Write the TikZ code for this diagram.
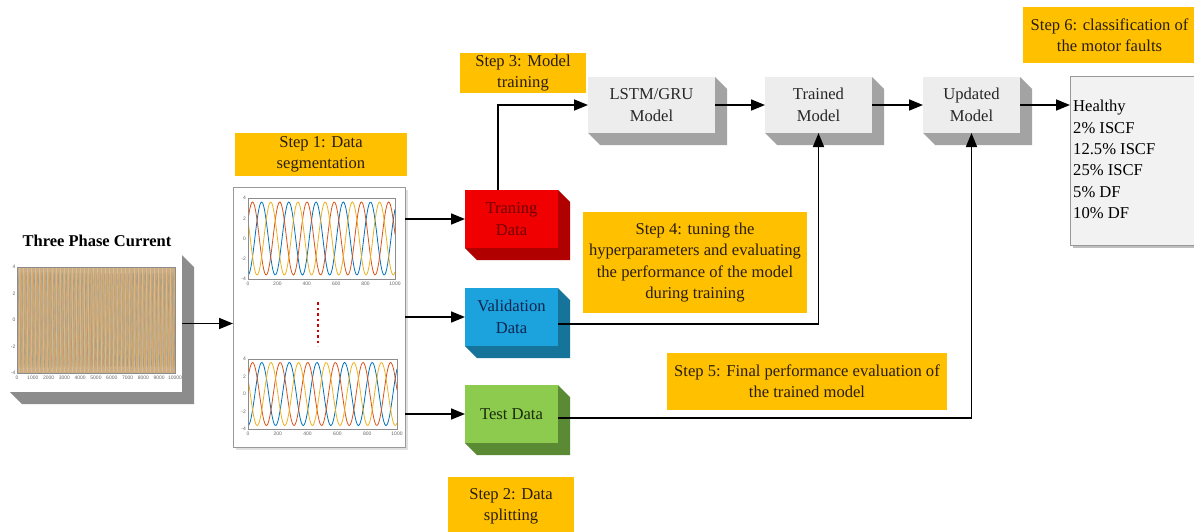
\documentclass[tikz,border=0pt]{standalone}
\usepackage{fontspec}
\setmainfont{Liberation Serif}
\newfontfamily\tickfont{Liberation Sans}
\usetikzlibrary{arrows.meta,calc}
\definecolor{stepor}{HTML}{FFC000}
\definecolor{steptext}{HTML}{2A1E10}
\definecolor{boxfront}{HTML}{EDEDED}
\definecolor{boxside}{HTML}{A3A3A3}
\definecolor{trfront}{HTML}{F00000}
\definecolor{trside}{HTML}{B00000}
\definecolor{trtext}{HTML}{700000}
\definecolor{vafront}{HTML}{1CA3DE}
\definecolor{vaside}{HTML}{16739A}
\definecolor{vatext}{HTML}{0E2550}
\definecolor{tefront}{HTML}{8CCB4E}
\definecolor{teside}{HTML}{5A8A34}
\definecolor{tetext}{HTML}{1A2A0A}
\definecolor{mblue}{HTML}{0072BD}
\definecolor{mred}{HTML}{D95319}
\definecolor{myel}{HTML}{EDB120}
\definecolor{tan}{HTML}{CDAE82}
\newcommand\extrude[3]{\fill[#2] (#1.north east) -- ++(#3,#3) -- ($(#1.south east)+(#3,#3)$) -- ($(#1.south west)+(#3,#3)$) -- (#1.south west) -- (#1.south east) -- cycle;}
\tikzset{
  txt/.style={font=\fontsize{16.6}{21.4}\selectfont},
  blk/.style={txt, inner sep=0pt, outer sep=0pt, align=center},
  stepbox/.style={blk, fill=stepor, text=steptext},
  graybox/.style={blk, fill=boxfront, text=black!85},
  arr/.style={line width=1.7pt, -{Triangle[length=14pt,width=11pt]}},
  tick/.style={font=\tickfont\fontsize{5}{5}\selectfont, text=black!60, inner sep=0pt},
  axis/.style={draw=black!45, line width=0.4pt}
}
\begin{document}
\begin{tikzpicture}[x=1pt,y=-1pt]
\useasboundingbox (0,0) rectangle (1194,531);

% ---------- Three phase current ----------
\node[font=\fontsize{16.5}{20}\selectfont\bfseries] (title) at (97,241) {Three Phase Current};
\node[fill=white, inner sep=0pt, outer sep=0pt, minimum width=172pt, minimum height=137pt] (tpc) at (96,323.5) {};
\extrude{tpc}{black!45}{12}
\fill[tan] (17,267) rectangle (175,373);
\begin{scope}
\clip (17,267) rectangle (175,373);
\foreach \ph/\col in {0/mblue,120/mred,240/myel}
  \draw[\col, line width=0.4pt, opacity=0.22] plot[domain=0:158,samples=480] ({17+\x},{320+47.7*cos(\x*91.1+\ph)});
\foreach \k in {0,...,38}
  \draw[white, opacity=0.18, line width=0.6pt] ({19+\k*4.1},268) -- ({19+\k*4.1},372);
\end{scope}
\draw[axis] (17,267) rectangle (175,373);
\foreach \v/\yy in {4/267,2/293.5,0/320,-2/346.5,-4/373}
  \node[tick, anchor=east] at (15.5,\yy) {\v};
\foreach \i in {0,...,10}{
  \pgfmathtruncatemacro\lab{\i*1000}
  \node[tick, anchor=north] at ({17+\i*15.8},376) {\lab};
}

% ---------- Segmentation box ----------
\fill[black!12] (236,190) rectangle (408,450);
\node[fill=white, draw=black!40, line width=0.8pt, inner sep=0pt, outer sep=0pt, minimum width=172pt, minimum height=260pt] (seg) at (319,317) {};
% top chart
\begin{scope}
\clip (248,198) rectangle (395,279);
\foreach \ph/\col in {0/mblue,120/mred,240/myel}
  \draw[\col, line width=0.8pt] plot[domain=0:147,samples=160] ({248+\x},{238.5+36.5*cos(\x*13.22+\ph)});
\end{scope}
\draw[axis] (248,198) rectangle (395,279);
\foreach \v/\yy in {4/198,2/218.25,0/238.5,-2/258.75,-4/279}
  \node[tick, anchor=east] at (246,\yy) {\v};
\foreach \i in {0,...,5}{
  \pgfmathtruncatemacro\lab{\i*200}
  \node[tick, anchor=north] at ({248+\i*29.4},282) {\lab};
}
% dots
\draw[red!80!black, line width=2pt, dash pattern=on 2.5pt off 3pt] (318,302) -- (318,346);
% bottom chart
\begin{scope}
\clip (248,359) rectangle (397,429);
\foreach \ph/\col in {0/mblue,120/mred,240/myel}
  \draw[\col, line width=0.8pt] plot[domain=0:149,samples=160] ({248+\x},{394+31.5*cos(\x*13.04+\ph)});
\end{scope}
\draw[axis] (248,359) rectangle (397,429);
\foreach \v/\yy in {4/359,2/376.5,0/394,-2/411.5,-4/429}
  \node[tick, anchor=east] at (246,\yy) {\v};
\foreach \i in {0,...,5}{
  \pgfmathtruncatemacro\lab{\i*200}
  \node[tick, anchor=north] at ({248+\i*29.8},432) {\lab};
}

% ---------- Data boxes ----------
\node[blk, fill=trfront, text=trtext, minimum width=93pt, minimum height=58pt] (train) at (511.5,219) {Traning\\Data};
\extrude{train}{trside}{12}
\node[blk, fill=vafront, text=vatext, minimum width=93pt, minimum height=58pt] (val) at (511.5,317) {Validation\\Data};
\extrude{val}{vaside}{12}
\node[blk, fill=tefront, text=tetext, minimum width=93pt, minimum height=58pt] (test) at (511.5,414) {Test Data};
\extrude{test}{teside}{12}

% ---------- Model boxes ----------
\node[graybox, minimum width=127pt, minimum height=56pt] (lstm) at (651.5,105) {LSTM/GRU\\Model};
\extrude{lstm}{boxside}{12}
\node[graybox, minimum width=107pt, minimum height=56pt] (trained) at (818.5,105) {Trained\\Model};
\extrude{trained}{boxside}{12}
\node[graybox, minimum width=97pt, minimum height=56pt] (updated) at (971.5,105) {Updated\\Model};
\extrude{updated}{boxside}{12}

% results
\fill[black!25] (1073,79) rectangle (1199,248);
\node[fill=black!5, draw=black!40, line width=0.6pt, inner sep=0pt, outer sep=0pt, minimum width=126pt, minimum height=169pt] (res) at (1133,160.5) {};
\node[txt, anchor=west, align=left, inner sep=0pt] (reslist) at (1073,159.5) {Healthy\\2\% ISCF\\12.5\% ISCF\\25\% ISCF\\5\% DF\\10\% DF};

% ---------- Step boxes ----------
\node[stepbox, minimum width=172pt, minimum height=43pt] (s1) at (321,154.5) {Step 1: Data\\segmentation};
\node[stepbox, minimum width=126pt, minimum height=58pt] (s2) at (511,506) {Step 2: Data\\splitting};
\node[stepbox, minimum width=126pt, minimum height=40pt] (s3) at (523,73) {Step 3: Model\\training};
\node[stepbox, minimum width=224pt, minimum height=101pt] (s4) at (695,262.5) {Step 4: tuning the\\hyperparameters and evaluating\\the performance of the model\\during training};
\node[stepbox, minimum width=280pt, minimum height=57pt] (s5) at (807,381.5) {Step 5: Final performance evaluation of\\the trained model};
\node[stepbox, minimum width=173pt, minimum height=56pt] (s6) at (1109.5,35) {Step 6: classification of\\the motor faults};

% ---------- Connectors ----------
\draw[arr] (tpc.east) -- (tpc.east -| seg.west);
\draw[arr] (seg.east |- train.west) -- (train.west);
\draw[arr] (seg.east |- val.west) -- (val.west);
\draw[arr] (seg.east |- test.west) -- (test.west);
\coordinate (trup) at ($(train.north west)+(33,0)$);
\draw[arr] (trup) |- (lstm.west);
\draw[arr] (lstm.east) -- (trained.west);
\draw[arr] (trained.east) -- (updated.west);
\draw[arr] (updated.east) -- (updated.east -| res.west);
\coordinate (vaout) at ($(val.east)+(0,7)$);
\draw[arr] (vaout) -| (trained.south);
\coordinate (teout) at ($(test.east)+(0,4)$);
\draw[arr] (teout) -| (updated.south);
\end{tikzpicture}
\end{document}
